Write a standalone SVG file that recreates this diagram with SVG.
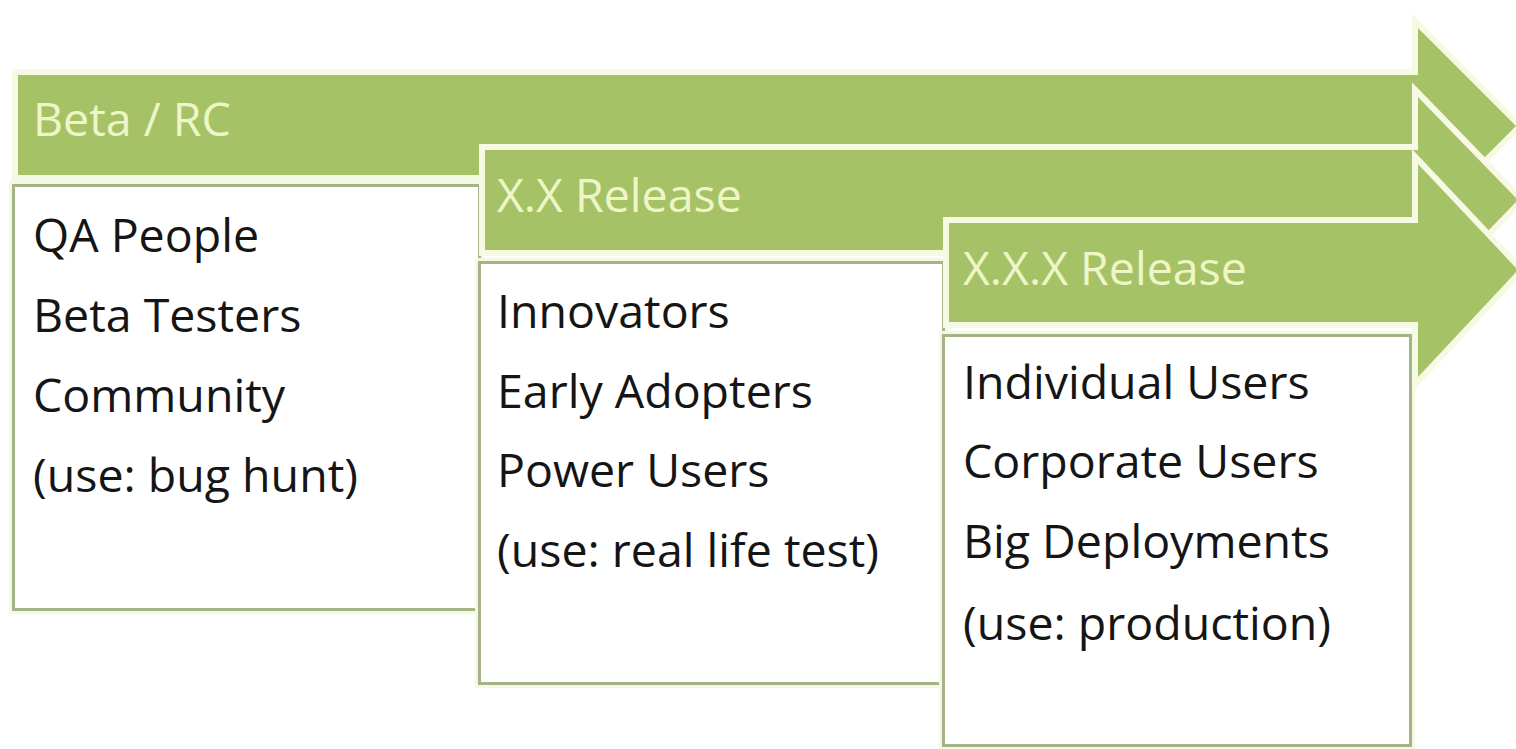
<svg xmlns="http://www.w3.org/2000/svg" width="1516" height="749" viewBox="0 0 1516 749">
<style>
.arrow{fill:#a6c266;stroke:#f6fae4;stroke-width:12;stroke-linejoin:miter;paint-order:stroke fill}
.box{fill:#ffffff;stroke:#a5b486;stroke-width:3}
.glow{fill:none;stroke:#f5f9e3;stroke-width:9}
.head{font-family:"Open Sans","Liberation Sans",sans-serif;font-size:46.5px;fill:#eef6c8}
.item{font-family:"Open Sans","Liberation Sans",sans-serif;font-size:46.5px;fill:#151515}
</style>
<rect x="0" y="0" width="1516" height="749" fill="#ffffff"/>
<g id="connectors"></g>
<g id="stage-beta">
<path class="arrow" d="M18,75 H1418 V28 L1516,126 L1418,224 V175 H18 Z"/>
<rect class="glow" x="13.5" y="185.5" width="466" height="424"/>
<rect class="box" x="13.5" y="185.5" width="466" height="424"/>
<text class="head" x="33" y="136">Beta / RC</text>
<text class="item" x="33" y="252">QA People</text>
<text class="item" x="33" y="332">Beta Testers</text>
<text class="item" x="33" y="412">Community</text>
<text class="item" x="33" y="492">(use: bug hunt)</text>
</g>
<g id="stage-xx">
<path class="arrow" d="M485,150 H1418 V97 L1518,200 L1418,303 V250 H485 Z"/>
<rect class="glow" x="479.5" y="262.5" width="464" height="421"/>
<rect class="box" x="479.5" y="262.5" width="464" height="421"/>
<text class="head" x="497" y="212">X.X Release</text>
<text class="item" x="497" y="328">Innovators</text>
<text class="item" x="497" y="408">Early Adopters</text>
<text class="item" x="497" y="487">Power Users</text>
<text class="item" x="497" y="567">(use: real life test)</text>
</g>
<g id="stage-xxx">
<path class="arrow" d="M949,223 H1418 V164 L1518,270 L1418,377 V322 H949 Z"/>
<rect class="glow" x="943.5" y="335.5" width="467" height="410"/>
<rect class="box" x="943.5" y="335.5" width="467" height="410"/>
<text class="head" x="963" y="285">X.X.X Release</text>
<text class="item" x="963" y="399">Individual Users</text>
<text class="item" x="963" y="478">Corporate Users</text>
<text class="item" x="963" y="558">Big Deployments</text>
<text class="item" x="963" y="640">(use: production)</text>
</g>
</svg>
